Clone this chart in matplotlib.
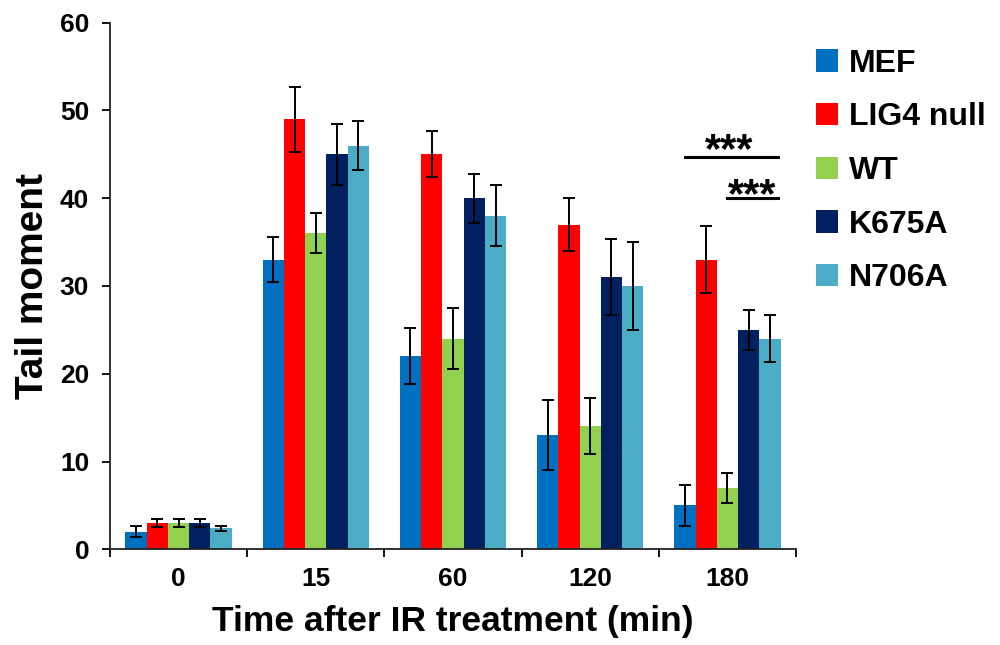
import numpy as np
import matplotlib
matplotlib.use('Agg')
import matplotlib.pyplot as plt

plt.rcParams['font.family'] = ['Liberation Sans', 'DejaVu Sans']
plt.rcParams['font.weight'] = 'bold'
plt.rcParams['axes.labelweight'] = 'bold'

# data
times = ['0', '15', '60', '120', '180']
groups = ['MEF', 'LIG4 null', 'WT', 'K675A', 'N706A']
colors = ['#0070C0', '#FF0000', '#92D050', '#002060', '#4BACC6']

mef = [2.0, 33.0, 22.0, 13.0, 5.0]
mef_err = [0.6, 2.6, 3.2, 4.0, 2.3]
lig4 = [3.0, 49.0, 45.0, 37.0, 33.0]
lig4_err = [0.5, 3.7, 2.6, 3.0, 3.8]
wt = [3.0, 36.0, 24.0, 14.0, 7.0]
wt_err = [0.5, 2.3, 3.5, 3.2, 1.7]
k675a = [3.0, 45.0, 40.0, 31.0, 25.0]
k675a_err = [0.5, 3.5, 2.8, 4.3, 2.3]
n706a = [2.4, 46.0, 38.0, 30.0, 24.0]
n706a_err = [0.3, 2.8, 3.5, 5.0, 2.7]

values = [mef, lig4, wt, k675a, n706a]
errors = [mef_err, lig4_err, wt_err, k675a_err, n706a_err]

fig = plt.figure(figsize=(10, 6.45), dpi=100)
ax = fig.add_axes([0.11, 0.1484, 0.686, 0.8165])

x = np.arange(len(times))
w = 0.155
for i in range(len(groups)):
    pos = x + (i - 2) * w
    ax.bar(pos, values[i], w, color=colors[i], label=groups[i], zorder=2)
    ax.errorbar(pos, values[i], yerr=errors[i], fmt='none', ecolor='black',
                elinewidth=1.4, capsize=4.5, capthick=1.4, zorder=3)

ax.set_xlim(-0.5, 4.5)
ax.set_ylim(0, 60)
ax.set_yticks(range(0, 61, 10))
ax.set_xticks(np.arange(-0.5, 5, 1))
ax.set_xticklabels([])
ax.set_xticks(x, minor=True)
ax.set_xticklabels(times, minor=True)
ax.tick_params(axis='x', which='minor', length=0, pad=13, labelsize=19)
ax.tick_params(axis='x', which='major', length=6, width=1.3, direction='out')
ax.tick_params(axis='y', length=6, width=1.3, labelsize=19, pad=9)
for s in ['top', 'right']:
    ax.spines[s].set_visible(False)
for s in ['left', 'bottom']:
    ax.spines[s].set_linewidth(1.3)
    ax.spines[s].set_color('#222222')

ax.set_ylabel('Tail moment', fontsize=28, labelpad=6)
ax.set_xlabel('Time after IR treatment (min)', fontsize=25.5, labelpad=10)

# significance marks at 180 min
g = 4
ax.plot([g - 2 * w, g + 2 * w + 0.06], [44.7, 44.7], color='black', lw=2.2)
ax.text(g + 0.015, 43.1, '***', ha='center', va='bottom', fontsize=30)
ax.plot([g, g + 2 * w + 0.06], [40.0, 40.0], color='black', lw=2.2)
ax.text(g + 0.18, 38.0, '***', ha='center', va='bottom', fontsize=30)

leg = ax.legend(loc='upper left', bbox_to_anchor=(1.01, 0.975), frameon=False,
                fontsize=23, handlelength=0.7, handleheight=0.7,
                handletextpad=0.35, labelspacing=0.74, borderaxespad=0)

fig.savefig('out.png', dpi=100)
